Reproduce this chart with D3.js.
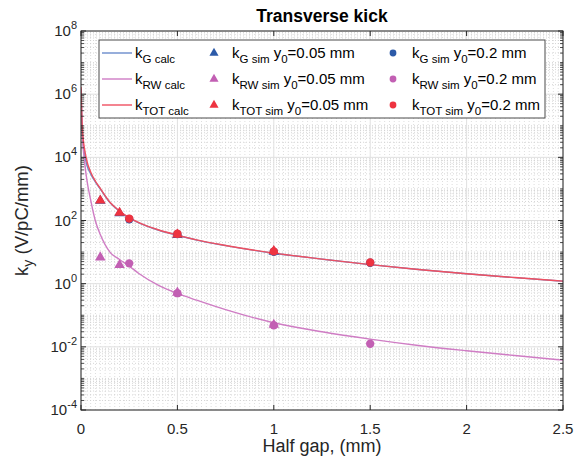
<!DOCTYPE html>
<html>
<head>
<meta charset="UTF-8">
<title>Transverse kick</title>
<style>
  body { margin: 0; background: #fff; }
  svg { display: block; font-family: "Liberation Sans", Arial, sans-serif; }
</style>
</head>
<body>
<svg width="580" height="462"></svg>
<script src="https://d3js.org/d3.v7.min.js"></script>
<script>
// calc curves (half gap in mm -> kick in V/pC/mm)
const xCalc = [0, 0.005, 0.01, 0.02, 0.03, 0.05, 0.075, 0.1, 0.15, 0.2, 0.25, 0.3, 0.4, 0.5, 0.6, 0.75, 1.0, 1.25, 1.5, 1.75, 2.0, 2.25, 2.5];
const kGcalc   = [1.5e6, 1.0e5, 3.2e4, 1.1e4, 5800, 3000, 1650, 1000, 370, 195, 120, 84, 50, 34, 24, 16, 9.2, 6.0, 4.0, 2.8, 2.05, 1.55, 1.2];
const kRWcalc  = [1.3e6, 8.0e4, 2.5e4, 6000, 2000, 450, 95, 36, 10, 5.8, 3.6, 2.1, 0.9, 0.49, 0.30, 0.15, 0.058, 0.030, 0.0175, 0.011, 0.0075, 0.0053, 0.0038];
const kTOTcalc = [1.7e6, 1.5e5, 4.7e4, 1.6e4, 7800, 3450, 1750, 1040, 380, 201, 124, 86, 51, 34.5, 24.3, 16.2, 9.3, 6.0, 4.0, 2.8, 2.06, 1.56, 1.2];

// simulations, y0 = 0.05 mm (triangles)
const xSimA = [0.1, 0.2, 0.5, 1.0];
const kGsimA   = [420, 170, 35, 10.3];
const kRWsimA  = [6.8, 3.9, 0.52, 0.05];
const kTOTsimA = [430, 175, 36, 10.8];

// simulations, y0 = 0.2 mm (circles)
const xSimB = [0.25, 0.5, 1.0, 1.5];
const kGsimB   = [110, 37, 10.2, 4.6];
const kRWsimB  = [4.4, 0.5, 0.048, 0.0125];
const kTOTsimB = [115, 38, 10.5, 4.7];

const xTicks = [0, 0.5, 1, 1.5, 2, 2.5];
const yExps = [-4, -2, 0, 2, 4, 6, 8];

const colG = "#2c5aa8", colGline = "#6a8ccc";
const colRW = "#c25fb3", colRWline = "#cf7cc4";
const colTOT = "#ee3340", colTOTline = "#ef5060";

const svg = d3.select("svg");
const pL = 81, pR = 563, pT = 31, pB = 410;

const x = d3.scaleLinear().domain([0, 2.5]).range([pL, pR]);
const y = d3.scaleLog().domain([1e-4, 1e8]).range([pB, pT]);

// minor grid
const gGrid = svg.append("g");
const minorY = [];
for (let e = -4; e < 8; e++) {
  for (let k = 1; k <= 9; k++) {
    const v = k * Math.pow(10, e);
    if (k === 1 && e % 2 === 0) continue;
    minorY.push(v);
  }
}
const minorX = d3.range(0, 2.5001, 0.025).filter(v => Math.abs(v * 2 - Math.round(v * 2)) > 1e-6);
gGrid.selectAll(".mx").data(minorX).join("line")
  .attr("x1", d => x(d)).attr("x2", d => x(d)).attr("y1", pT).attr("y2", pB)
  .attr("stroke", "#d6d6d6").attr("stroke-width", 0.8).attr("stroke-dasharray", "1 2");
gGrid.selectAll(".my").data(minorY).join("line")
  .attr("x1", pL).attr("x2", pR).attr("y1", d => y(d)).attr("y2", d => y(d))
  .attr("stroke", "#cccccc").attr("stroke-width", 0.8).attr("stroke-dasharray", "1 2");
// major grid
gGrid.selectAll(".Mx").data(xTicks).join("line")
  .attr("x1", d => x(d)).attr("x2", d => x(d)).attr("y1", pT).attr("y2", pB)
  .attr("stroke", "#e0e0e0").attr("stroke-width", 1);
gGrid.selectAll(".My").data(yExps).join("line")
  .attr("x1", pL).attr("x2", pR).attr("y1", d => y(Math.pow(10, d))).attr("y2", d => y(Math.pow(10, d)))
  .attr("stroke", "#e0e0e0").attr("stroke-width", 1);

// calc lines
const line = d3.line().x(d => x(d[0])).y(d => y(d[1])).curve(d3.curveMonotoneX);
svg.append("clipPath").attr("id", "plot").append("rect")
  .attr("x", pL).attr("y", pT).attr("width", pR - pL).attr("height", pB - pT);
const gData = svg.append("g").attr("clip-path", "url(#plot)");
[[kGcalc, colGline], [kRWcalc, colRWline], [kTOTcalc, colTOTline]].forEach(([vals, c]) => {
  gData.append("path")
    .datum(xCalc.map((v, i) => [v, vals[i]]))
    .attr("fill", "none").attr("stroke", c).attr("stroke-width", 1.4)
    .attr("d", line);
});

// markers
const tri = d3.symbol().type(d3.symbolTriangle).size(48);
const circ = d3.symbol().type(d3.symbolCircle).size(55);
function markers(xs, vals, sym, color) {
  gData.append("g").selectAll("path").data(xs.map((v, i) => [v, vals[i]])).join("path")
    .attr("d", sym)
    .attr("transform", d => `translate(${x(d[0])},${y(d[1])})`)
    .attr("fill", color);
}
markers(xSimA, kGsimA, tri, colG);
markers(xSimB, kGsimB, circ, colG);
markers(xSimA, kRWsimA, tri, colRW);
markers(xSimB, kRWsimB, circ, colRW);
markers(xSimA, kTOTsimA, tri, colTOT);
markers(xSimB, kTOTsimB, circ, colTOT);

// axes box and ticks
const axisCol = "#262626";
const gAx = svg.append("g").attr("stroke", axisCol);
gAx.append("rect").attr("x", pL).attr("y", pT).attr("width", pR - pL).attr("height", pB - pT)
  .attr("fill", "none").attr("stroke-width", 1);
xTicks.forEach(t => {
  gAx.append("line").attr("x1", x(t)).attr("x2", x(t)).attr("y1", pB).attr("y2", pB - 5);
  gAx.append("line").attr("x1", x(t)).attr("x2", x(t)).attr("y1", pT).attr("y2", pT + 5);
});
yExps.forEach(e => {
  const yy = y(Math.pow(10, e));
  gAx.append("line").attr("x1", pL).attr("x2", pL + 5).attr("y1", yy).attr("y2", yy);
  gAx.append("line").attr("x1", pR).attr("x2", pR - 5).attr("y1", yy).attr("y2", yy);
});
minorY.forEach(v => {
  const yy = y(v);
  gAx.append("line").attr("x1", pL).attr("x2", pL + 3).attr("y1", yy).attr("y2", yy).attr("stroke-width", 0.8);
  gAx.append("line").attr("x1", pR).attr("x2", pR - 3).attr("y1", yy).attr("y2", yy).attr("stroke-width", 0.8);
});

// tick labels
svg.append("g").selectAll("text").data(xTicks).join("text")
  .attr("x", d => x(d)).attr("y", pB + 24)
  .attr("text-anchor", "middle").attr("font-size", 15).attr("fill", axisCol)
  .text(d => d);
const yl = svg.append("g").selectAll("text").data(yExps).join("text")
  .attr("x", pL - 4).attr("y", d => y(Math.pow(10, d)) + 5)
  .attr("text-anchor", "end").attr("font-size", 15).attr("fill", axisCol);
yl.append("tspan").text("10");
yl.append("tspan").attr("dy", -7).attr("font-size", 11).text(d => d);

// axis titles
svg.append("text").attr("x", (pL + pR) / 2).attr("y", 452)
  .attr("text-anchor", "middle").attr("font-size", 18).attr("fill", axisCol)
  .text("Half gap, (mm)");
const ylab = svg.append("text")
  .attr("transform", `translate(28,${(pT + pB) / 2}) rotate(-90)`)
  .attr("text-anchor", "middle").attr("font-size", 18.5).attr("fill", axisCol);
ylab.append("tspan").text("k");
ylab.append("tspan").attr("dy", 5).attr("font-size", 14).text("y");
ylab.append("tspan").attr("dy", -5).text(" (V/pC/mm)");

svg.append("text").attr("x", (pL + pR) / 2).attr("y", 22)
  .attr("text-anchor", "middle").attr("font-size", 17.5).attr("font-weight", "bold").attr("fill", "#000")
  .text("Transverse kick");

// legend
const lg = svg.append("g");
lg.append("rect").attr("x", 99).attr("y", 40).attr("width", 446).attr("height", 78)
  .attr("fill", "#fff").attr("stroke", "#4a4a4a").attr("stroke-width", 1);
const rowsY = [58, 84, 110];
const names = ["G", "RW", "TOT"];
const lineCols = [colGline, colRWline, colTOTline];
const markCols = [colG, colRW, colTOT];

function subText(g, xx, yy, parts) {
  const t = g.append("text").attr("x", xx).attr("y", yy).attr("font-size", 15).attr("fill", "#000");
  let sub = false;
  parts.forEach(([s, isSub]) => {
    const ts = t.append("tspan").text(s);
    if (isSub && !sub) ts.attr("dy", 5).attr("font-size", 11.5);
    else if (isSub) ts.attr("font-size", 11.5);
    else if (sub) ts.attr("dy", -5);
    sub = isSub;
  });
}

names.forEach((n, i) => {
  const ry = rowsY[i];
  lg.append("line").attr("x1", 102).attr("x2", 132).attr("y1", ry - 5).attr("y2", ry - 5)
    .attr("stroke", lineCols[i]).attr("stroke-width", 1.4);
  subText(lg, 135, ry, [["k", false], [n + " calc", true]]);
  lg.append("path").attr("d", d3.symbol().type(d3.symbolTriangle).size(36))
    .attr("transform", `translate(214,${ry - 5})`).attr("fill", markCols[i]);
  subText(lg, 232, ry, [["k", false], [n + " sim", true], [" y", false], ["0", true], ["=0.05 mm", false]]);
  lg.append("path").attr("d", d3.symbol().type(d3.symbolCircle).size(36))
    .attr("transform", `translate(393,${ry - 5})`).attr("fill", markCols[i]);
  subText(lg, 412, ry, [["k", false], [n + " sim", true], [" y", false], ["0", true], ["=0.2 mm", false]]);
});
</script>
</body>
</html>
